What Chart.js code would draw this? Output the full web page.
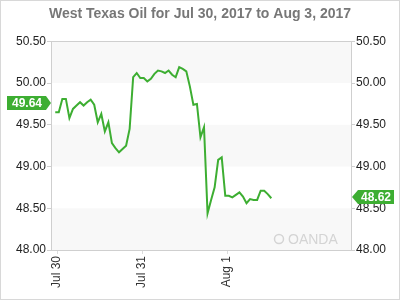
<!DOCTYPE html>
<html>
<head>
<meta charset="utf-8">
<style>
  html, body { margin: 0; padding: 0; background: #fff; }
  #wrap { width: 400px; height: 300px; }
</style>
<script src="https://cdn.jsdelivr.net/npm/chart.js@4.4.0/dist/chart.umd.min.js"></script>
</head>
<body>
<div id="wrap"><canvas id="chartOil" width="400" height="300"></canvas></div>
<script>
(function() {
    'use strict';

    // hourly quotes, first one half an hour before Jul 30 00:00
    const startHour = -0.5;
    const prices = [
        49.65, 49.65, 49.81, 49.81, 49.58, 49.69, 49.73, 49.77, 49.73, 49.77,
        49.80, 49.74, 49.53, 49.63, 49.42, 49.53, 49.28, 49.22, 49.17, 49.21,
        49.25, 49.45, 50.07, 50.12, 50.06, 50.06, 50.02, 50.05, 50.11, 50.15,
        50.14, 50.12, 50.15, 50.10, 50.07, 50.19, 50.17, 50.14, 49.96, 49.74,
        49.75, 49.35, 49.47, 48.44, 48.60, 48.75, 49.08, 49.11, 48.65, 48.65,
        48.63, 48.66, 48.69, 48.64, 48.56, 48.61, 48.60, 48.60, 48.71, 48.71,
        48.67, 48.62
    ];
    const dayLabels = ['Jul 30', 'Jul 31', 'Aug 1'];
    const yTicks = [48.00, 48.50, 49.00, 49.50, 50.00, 50.50];
    const openLabel = 49.64;
    const lastLabel = 48.62;

    const verde = '#3dae32';
    const fonte = "'Liberation Sans', Arial, sans-serif";

    const pontos = prices.map((p, i) => ({ x: startHour + i, y: p }));

    const fundo = {
        id: 'fundo',
        beforeDraw(chart) {
            const c = chart.ctx, a = chart.chartArea, y = chart.scales.y;
            c.save();
            c.fillStyle = '#fff';
            c.fillRect(0, 0, chart.width, chart.height);
            c.fillStyle = '#f8f8f8';
            for (let i = 0; i < yTicks.length - 1; i += 2) {
                const y1 = y.getPixelForValue(yTicks[i]);
                const y2 = y.getPixelForValue(yTicks[i + 1]);
                c.fillRect(a.left, y2, a.right - a.left, y1 - y2);
            }
            // watermark
            c.strokeStyle = '#d4d4d4';
            c.lineWidth = 1.5;
            c.beginPath();
            c.arc(a.right - 72, a.bottom - 11, 4.5, 0, Math.PI * 2);
            c.stroke();
            c.fillStyle = '#d4d4d4';
            c.font = '14px ' + fonte;
            c.textBaseline = 'middle';
            c.fillText('OANDA', a.right - 63, a.bottom - 10);
            c.restore();
        },
        afterDraw(chart) {
            const c = chart.ctx, a = chart.chartArea, y = chart.scales.y;
            c.save();
            c.strokeStyle = '#cfcfcf';
            c.lineWidth = 1;
            c.strokeRect(Math.round(a.left) + 0.5, Math.round(a.top) + 0.5,
                Math.round(a.right - a.left), Math.round(a.bottom - a.top));
            c.strokeStyle = '#d8d8d8';
            c.strokeRect(0.5, 0.5, chart.width - 1, chart.height - 1);

            c.font = 'bold 12px ' + fonte;
            c.textBaseline = 'middle';
            // left badge
            let yy = Math.round(y.getPixelForValue(openLabel)) - 10;
            c.fillStyle = verde;
            c.beginPath();
            c.moveTo(7, yy - 7);
            c.lineTo(46, yy - 7);
            c.lineTo(51, yy);
            c.lineTo(46, yy + 7);
            c.lineTo(7, yy + 7);
            c.closePath();
            c.fill();
            c.fillStyle = '#fff';
            c.textAlign = 'center';
            c.fillText(openLabel.toFixed(2), 27, yy + 1);
            // right badge
            yy = Math.round(y.getPixelForValue(lastLabel)) - 1;
            c.fillStyle = verde;
            c.beginPath();
            c.moveTo(352, yy);
            c.lineTo(358, yy - 7);
            c.lineTo(394, yy - 7);
            c.lineTo(394, yy + 7);
            c.lineTo(358, yy + 7);
            c.closePath();
            c.fill();
            c.fillStyle = '#fff';
            c.fillText(lastLabel.toFixed(2), 376, yy + 1);
            c.restore();
        }
    };

    const eixoY = (pos, largura) => ({
        type: 'linear',
        position: pos,
        min: 48,
        max: 50.5,
        afterBuildTicks: axis => { axis.ticks = yTicks.map(v => ({ value: v })); },
        afterFit: scale => { scale.width = largura; },
        border: { display: false },
        grid: { drawOnChartArea: false, tickLength: 4, color: '#cfcfcf' },
        ticks: {
            color: '#222',
            padding: 1,
            font: { size: 12, family: fonte },
            callback: v => Number(v).toFixed(2)
        }
    });

    new Chart(document.getElementById('chartOil').getContext('2d'), {
        type: 'line',
        data: {
            datasets: [{
                data: pontos,
                borderColor: verde,
                borderWidth: 2,
                pointRadius: 0,
                tension: 0,
                fill: false
            }]
        },
        options: {
            responsive: false,
            animation: false,
            layout: { padding: 0 },
            plugins: {
                legend: { display: false },
                tooltip: { enabled: false },
                title: {
                    display: true,
                    text: 'West Texas Oil for Jul 30, 2017 to Aug 3, 2017',
                    color: '#777',
                    font: { size: 14, weight: 'bold', family: fonte },
                    padding: { top: 6, bottom: 18.5 }
                }
            },
            scales: {
                x: {
                    type: 'linear',
                    position: 'bottom',
                    min: -1.7,
                    max: 83,
                    afterBuildTicks: axis => { axis.ticks = dayLabels.map((d, i) => ({ value: i * 24 })); },
                    afterFit: scale => { scale.height = 50; },
                    border: { display: false },
                    grid: { drawOnChartArea: false, tickLength: 4, color: '#dcdcdc' },
                    ticks: {
                        color: '#333',
                        padding: 2,
                        maxRotation: 90,
                        minRotation: 90,
                        font: { size: 12, family: fonte },
                        callback: v => dayLabels[Math.round(v / 24)] || ''
                    }
                },
                y: eixoY('left', 51),
                y2: eixoY('right', 49)
            }
        },
        plugins: [fundo]
    });
})();
</script>
</body>
</html>
